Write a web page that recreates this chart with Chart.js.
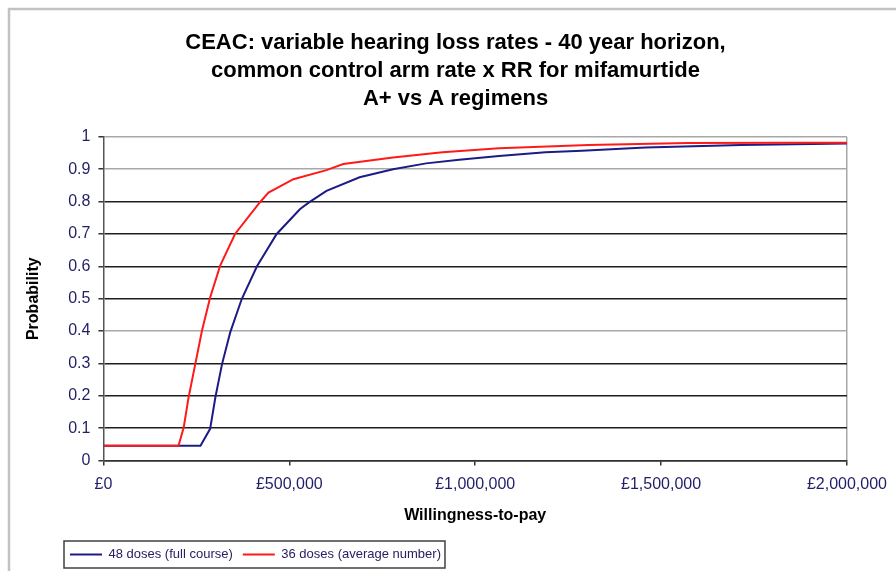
<!DOCTYPE html>
<html lang="en">
<head>
    <meta charset="UTF-8">
    <title>CEAC - mifamurtide</title>
    <script src="https://cdn.jsdelivr.net/npm/chart.js@4.4.0/dist/chart.umd.min.js"></script>
    <style>
        body {
            margin: 0;
            background: #ffffff;
            overflow: hidden;
        }

        #ceacChart {
            display: block;
        }
    </style>
</head>
<body>
    <canvas id="ceacChart" width="896" height="571"></canvas>

    <script>
        // 48 doses (full course)
        const fullCourseWtp = [0, 261000, 287000, 301000, 319000, 341000, 372000, 413000, 466000, 529000, 555000, 600000, 689000, 779000, 868000, 957000, 1064000, 1189000, 1287000, 1458000, 1715000, 2000000];
        const fullCourseProb = [0.046, 0.046, 0.098, 0.195, 0.298, 0.396, 0.499, 0.600, 0.700, 0.777, 0.799, 0.833, 0.875, 0.900, 0.918, 0.929, 0.941, 0.952, 0.957, 0.967, 0.975, 0.979];

        // 36 doses (average number)
        const averageWtp = [0, 202000, 216000, 229000, 247000, 265000, 287000, 314000, 354000, 421000, 444000, 511000, 600000, 645000, 779000, 912000, 1064000, 1305000, 1573000, 1849000, 2000000];
        const averageProb = [0.046, 0.046, 0.103, 0.195, 0.298, 0.401, 0.504, 0.602, 0.700, 0.798, 0.828, 0.869, 0.897, 0.916, 0.936, 0.952, 0.965, 0.975, 0.981, 0.982, 0.982];

        const seriesLabels = ['48 doses (full course)', '36 doses (average number)'];
        const titleLines = ['CEAC: variable hearing loss rates - 40 year horizon,', 'common control arm rate x RR for mifamurtide', 'A+ vs A regimens'];

        function toPoints(xs, ys) {
            return xs.map((x, i) => ({ x: x, y: ys[i] }));
        }

        // grey frame round the whole chart, like the Excel chart area
        const chartFrame = {
            id: 'chartFrame',
            beforeDraw(chart) {
                const ctx = chart.ctx;
                ctx.save();
                ctx.strokeStyle = '#c2c2c2';
                ctx.lineWidth = 2.5;
                ctx.strokeRect(9, 9, chart.width + 20, chart.height + 20);
                ctx.restore();
            }
        };

        // move the legend to the right a bit, and the title to the frame's centre
        const shiftBlocks = {
            id: 'shiftBlocks',
            afterLayout(chart) {
                chart.legend.left += 52;
                chart.legend.right += 52;
                chart.titleBlock.left += 26;
                chart.titleBlock.right += 26;
            }
        };

        // box round the legend items
        const legendBox = {
            id: 'legendBox',
            afterDraw(chart) {
                const boxes = chart.legend.legendHitBoxes;
                if (!boxes || !boxes.length) return;
                const left = Math.min(...boxes.map(b => b.left)) - 6;
                const right = Math.max(...boxes.map(b => b.left + b.width)) + 4;
                const top = Math.min(...boxes.map(b => b.top)) - 7;
                const bottom = Math.max(...boxes.map(b => b.top + b.height)) + 7;
                const ctx = chart.ctx;
                ctx.save();
                ctx.strokeStyle = '#404040';
                ctx.lineWidth = 1.5;
                ctx.strokeRect(left, top, right - left, bottom - top);
                ctx.restore();
            }
        };

        const ctx = document.getElementById('ceacChart').getContext('2d');
        new Chart(ctx, {
            type: 'line',
            data: {
                datasets: [{
                    label: seriesLabels[0],
                    data: toPoints(fullCourseWtp, fullCourseProb),
                    borderColor: '#1c1c84',
                    backgroundColor: '#1c1c84',
                    borderWidth: 2,
                    pointRadius: 0,
                    tension: 0,
                    order: 1
                }, {
                    label: seriesLabels[1],
                    data: toPoints(averageWtp, averageProb),
                    borderColor: '#ff1a1a',
                    backgroundColor: '#ff1a1a',
                    borderWidth: 2,
                    pointRadius: 0,
                    tension: 0,
                    order: 0
                }]
            },
            options: {
                responsive: false,
                animation: false,
                layout: {
                    padding: { left: 8, right: 45, top: 0, bottom: 0 }
                },
                plugins: {
                    title: {
                        display: true,
                        text: titleLines,
                        color: '#000000',
                        font: { family: 'Arial, "Liberation Sans", sans-serif', size: 22, weight: 'bold', lineHeight: 1.27 },
                        padding: { top: 29, bottom: 24 }
                    },
                    legend: {
                        position: 'bottom',
                        align: 'start',
                        labels: {
                            usePointStyle: true,
                            pointStyle: 'line',
                            pointStyleWidth: 32,
                            color: '#2a2060',
                            padding: 10,
                            font: { family: 'Arial, "Liberation Sans", sans-serif', size: 13 },
                            sort: (a, b) => a.datasetIndex - b.datasetIndex
                        }
                    },
                    tooltip: { enabled: false }
                },
                scales: {
                    x: {
                        type: 'linear',
                        min: 0,
                        max: 2000000,
                        ticks: {
                            stepSize: 500000,
                            color: '#1f1f66',
                            padding: 9,
                            maxRotation: 0,
                            font: { family: 'Arial, "Liberation Sans", sans-serif', size: 16 },
                            callback: v => '£' + v.toLocaleString('en-GB')
                        },
                        grid: {
                            color: c => (c.tick && c.tick.value === 2000000) ? '#a8a8a8' : 'rgba(0,0,0,0)',
                            lineWidth: 1.5,
                            tickColor: '#333333',
                            tickLength: 5,
                            tickWidth: 1.5
                        },
                        border: { color: '#333333', width: 1.5 },
                        title: {
                            display: true,
                            text: 'Willingness-to-pay',
                            color: '#000000',
                            font: { family: 'Arial, "Liberation Sans", sans-serif', size: 16, weight: 'bold' },
                            padding: { top: 3, bottom: 13 }
                        }
                    },
                    y: {
                        min: 0,
                        max: 1,
                        ticks: {
                            stepSize: 0.1,
                            color: '#1f1f66',
                            padding: 8,
                            font: { family: 'Arial, "Liberation Sans", sans-serif', size: 16 },
                            callback: v => String(Math.round(v * 10) / 10)
                        },
                        grid: {
                            color: c => {
                                const k = Math.round(c.tick.value * 10);
                                return (k === 10 || k === 9 || k === 4) ? '#a8a8a8' : '#1e1e1e';
                            },
                            lineWidth: 1.5,
                            tickColor: '#333333',
                            tickLength: 5,
                            tickWidth: 1.5
                        },
                        border: { color: '#555555', width: 1.5 },
                        title: {
                            display: true,
                            text: 'Probability',
                            color: '#000000',
                            font: { family: 'Arial, "Liberation Sans", sans-serif', size: 16, weight: 'bold' },
                            padding: { top: 16, bottom: 17 }
                        }
                    }
                }
            },
            plugins: [chartFrame, shiftBlocks, legendBox]
        });
    </script>
</body>
</html>
